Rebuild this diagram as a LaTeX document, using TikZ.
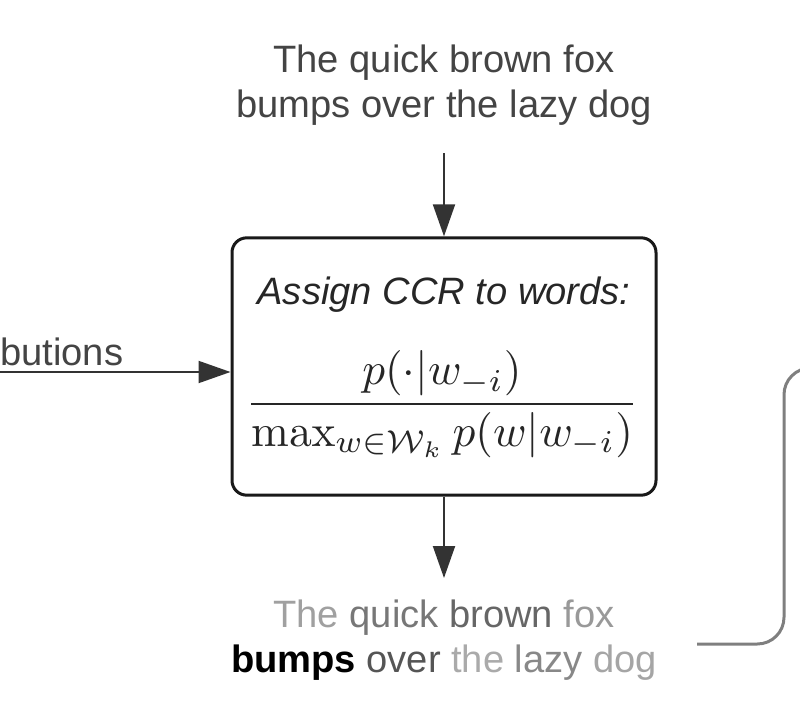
\documentclass[tikz,border=0pt]{standalone}
\usepackage[no-math]{fontspec}
\setmainfont{Liberation Sans}
\usetikzlibrary{arrows.meta}
\definecolor{inkdark}{HTML}{444444}
\definecolor{inkarrow}{HTML}{333333}
\definecolor{inkfeed}{HTML}{7F7F7F}
\definecolor{wThe}{HTML}{A0A0A0}
\definecolor{wquick}{HTML}{777777}
\definecolor{wbrown}{HTML}{666666}
\definecolor{wfox}{HTML}{999999}
\definecolor{wover}{HTML}{555555}
\definecolor{wthe}{HTML}{AAAAAA}
\definecolor{wlazy}{HTML}{888888}
\definecolor{wdog}{HTML}{A5A5A5}
\tikzset{
  sent/.style={align=center, text=inkdark, font=\fontsize{28.6}{33.75}\selectfont},
  ccrbox/.style={draw=black!90, line width=2.25pt, rounded corners=11pt,
    minimum width=318pt, minimum height=193pt},
  flow/.style={draw=inkarrow, line width=1.5pt,
    -{Triangle[length=24pt,width=16.5pt]}},
}
\begin{document}
\begin{tikzpicture}[x=0.75pt,y=-0.75pt]
\useasboundingbox (0,0) rectangle (800,728);
\node [sent] (v1) at (444,85) {The quick brown fox\\bumps over the lazy dog};
\node [ccrbox] (v2) at (444,366.5) {};
\node [sent, font=\fontsize{28.6}{33.75}\selectfont\itshape, text=black!85] (v3) at (444,295) {Assign CCR to words:};
\node [text=black!85] (v4) at (442,404) {\scalebox{3.4}{$\displaystyle\frac{p(\cdot|w_{-i})}{\max_{w\in\mathcal{W}_k} p(w|w_{-i})}$}};
\node [sent] (v5) at (444,640) {\color{wThe}The \color{wquick}quick \color{wbrown}brown \color{wfox}fox\\
  \color{black}\textbf{bumps} \color{wover}over \color{wthe}the \color{wlazy}lazy \color{wdog}dog};
\node [sent, anchor=base west, inner sep=0pt] (v6) at (0,365) {butions};
\coordinate (v7) at (0,372);
\coordinate (v8) at (697,644);
\coordinate (v9) at (830,368);
%
\draw [flow] (444,153) -- (v2.north);
\draw [flow] (v7) -- (v7 -| v2.west);
\draw [flow] (v2.south) -- (444,578);
\draw [draw=inkfeed, line width=2.25pt, rounded corners=20pt] (v8) -| (784,368) -- (v9);
\end{tikzpicture}
\end{document}
